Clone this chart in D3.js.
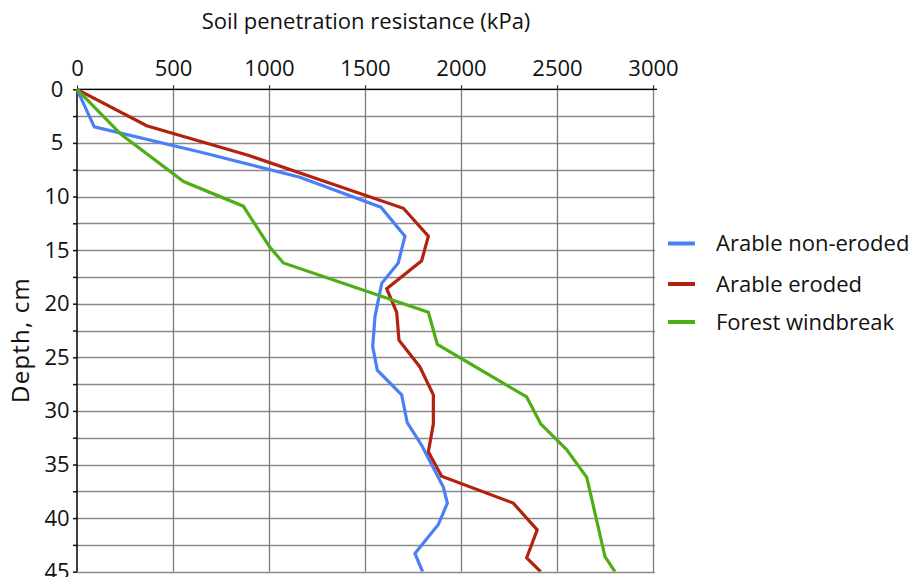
<!DOCTYPE html>
<html>
<head>
<meta charset="utf-8">
<script src="https://cdn.jsdelivr.net/npm/d3@7"></script>
<style>
  html, body { margin: 0; padding: 0; background: #fff; }
  svg { display: block; font-family: "Open Sans", "Noto Sans", sans-serif; }
</style>
</head>
<body>
<svg id="chart" width="910" height="577"></svg>
<script>
// ---- Data ----
const xTicks = [0, 500, 1000, 1500, 2000, 2500, 3000];
const yTicks = [0, 5, 10, 15, 20, 25, 30, 35, 40, 45];
const yGrid = [0, 2.5, 5, 7.5, 10, 12.5, 15, 17.5, 20, 22.5, 25, 27.5, 30, 32.5, 35, 37.5, 40, 42.5, 45];

const seriesNames = ["Arable non-eroded", "Arable eroded", "Forest windbreak"];

const nonErodedDepth = [0, 3.5, 5.85, 8.2, 11.0, 13.7, 16.2, 18.1, 21.2, 24.0, 26.2, 28.5, 31.1, 33.2, 37.1, 38.6, 40.6, 43.3, 45];
const nonErodedValue = [0, 90, 641, 1161, 1583, 1708, 1673, 1587, 1552, 1540, 1564, 1691, 1720, 1795, 1908, 1929, 1882, 1760, 1800];

const erodedDepth = [0, 3.4, 6.15, 11.1, 13.7, 16.0, 18.6, 20.8, 23.4, 25.9, 28.5, 31.2, 33.8, 36.1, 38.6, 41.1, 43.7, 45];
const erodedValue = [0, 363, 891, 1700, 1830, 1795, 1613, 1665, 1677, 1786, 1856, 1856, 1830, 1899, 2272, 2397, 2342, 2415];

const forestDepth = [0, 4.2, 8.6, 10.9, 14.7, 16.2, 20.8, 23.8, 28.7, 31.2, 33.6, 36.2, 43.6, 45];
const forestValue = [0, 229, 555, 866, 1003, 1075, 1830, 1877, 2342, 2415, 2550, 2655, 2750, 2802];

const colors = ["#4a7ff5", "#b2220f", "#4dae16"];

// ---- Layout ----
const svg = d3.select("#chart");
const mLeft = 77, mRight = 653, mTop = 89.3, mBottom = 571.7;
const fs = 22;

const x = d3.scaleLinear().domain([0, 3000]).range([mLeft, mRight]);
const y = d3.scaleLinear().domain([0, 45]).range([mTop, mBottom]);

// horizontal grid
svg.append("g").selectAll("line").data(yGrid).join("line")
  .attr("x1", mLeft).attr("x2", mRight + 2)
  .attr("y1", d => Math.round(y(d)) + 0.5).attr("y2", d => Math.round(y(d)) + 0.5)
  .attr("stroke", "#8a8a8a").attr("stroke-width", 1.3);

// vertical grid
svg.append("g").selectAll("line").data(xTicks.slice(1)).join("line")
  .attr("x1", d => Math.round(x(d)) + 0.5).attr("x2", d => Math.round(x(d)) + 0.5)
  .attr("y1", mTop - 4).attr("y2", mBottom)
  .attr("stroke", "#7a7a7a").attr("stroke-width", 1.3);

// top axis
const xAxis = d3.axisTop(x).tickValues(xTicks).tickSize(4).tickPadding(9).tickFormat(d3.format("d"));
const gx = svg.append("g").attr("transform", `translate(0,${mTop})`).call(xAxis);
gx.select(".domain").remove();
gx.append("line").attr("x1", mLeft).attr("x2", mRight + 4).attr("y1", 0).attr("y2", 0)
  .attr("stroke", "#000").attr("stroke-width", 1.2);
gx.selectAll(".tick line").attr("stroke", "#333");
gx.selectAll(".tick text").attr("font-size", fs).attr("fill", "#111")
  .attr("font-family", "'Open Sans', sans-serif");

// left axis (labels centred, as in the reference)
const yAxis = d3.axisLeft(y).tickValues(yGrid).tickSize(4).tickPadding(10)
  .tickFormat(d => (yTicks.includes(d) ? d3.format("d")(d) : ""));
const gy = svg.append("g").attr("transform", `translate(${mLeft},0)`).call(yAxis);
gy.select(".domain").remove();
gy.append("line").attr("x1", 0).attr("x2", 0).attr("y1", mTop).attr("y2", mBottom)
  .attr("stroke", "#000").attr("stroke-width", 1.5);
gy.selectAll(".tick line").attr("stroke", "#111").attr("stroke-width", 1.5);
gy.selectAll(".tick text").attr("font-size", fs).attr("fill", "#111")
  .attr("font-family", "'Open Sans', sans-serif")
  .attr("text-anchor", "middle").attr("x", -20);

// series
const series = [
  { name: seriesNames[0], depth: nonErodedDepth, value: nonErodedValue, color: colors[0] },
  { name: seriesNames[1], depth: erodedDepth, value: erodedValue, color: colors[1] },
  { name: seriesNames[2], depth: forestDepth, value: forestValue, color: colors[2] }
];
const line = d3.line().x(d => x(d[0])).y(d => y(d[1]));
svg.append("clipPath").attr("id", "plotclip").append("rect")
  .attr("x", mLeft - 5).attr("y", mTop - 5).attr("width", mRight - mLeft + 10).attr("height", mBottom - mTop + 5);
svg.append("g").attr("clip-path", "url(#plotclip)").selectAll("path").data(series).join("path")
  .attr("d", s => line(s.value.map((v, i) => [v, s.depth[i]])))
  .attr("fill", "none").attr("stroke", s => s.color).attr("stroke-width", 3.2)
  .attr("stroke-linejoin", "miter");

// titles
svg.append("text").attr("x", 366).attr("y", 29).attr("text-anchor", "middle")
  .attr("font-size", fs).attr("fill", "#111").text("Soil penetration resistance (kPa)");
svg.append("text").attr("transform", "translate(29,340) rotate(-90)").attr("text-anchor", "middle")
  .attr("font-size", 24).attr("letter-spacing", 1.2).attr("fill", "#111").text("Depth, cm");

// legend
const legY = [243.5, 284, 322];
const leg = svg.append("g").selectAll("g").data(series).join("g")
  .attr("transform", (d, i) => `translate(668,${legY[i]})`);
leg.append("line").attr("x1", 0).attr("x2", 27).attr("y1", 0).attr("y2", 0)
  .attr("stroke", d => d.color).attr("stroke-width", 4);
leg.append("text").attr("x", 48).attr("y", 0).attr("dy", "0.36em").attr("font-size", fs).attr("fill", "#111")
  .text(d => d.name);
</script>
</body>
</html>
